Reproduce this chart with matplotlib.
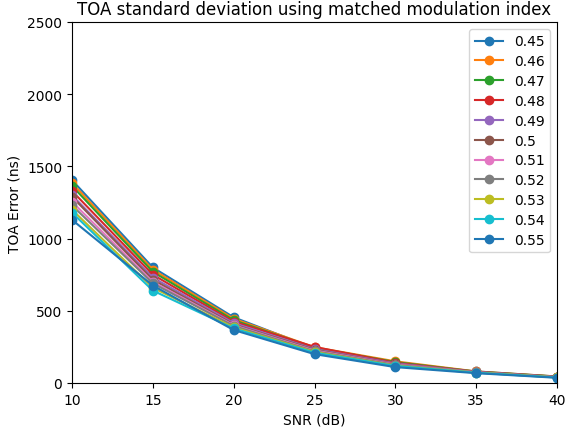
import matplotlib
matplotlib.use("Agg")
import matplotlib.pyplot as plt

snr = [10, 15, 20, 25, 30, 35, 40]
mod_index = ["0.45", "0.46", "0.47", "0.48", "0.49", "0.5",
             "0.51", "0.52", "0.53", "0.54", "0.55"]

toa_045 = [1405, 800, 455, 240, 140, 80, 45]
toa_046 = [1385, 785, 445, 248, 150, 80, 45]
toa_047 = [1365, 770, 435, 245, 145, 78, 44]
toa_048 = [1330, 750, 425, 250, 140, 77, 43]
toa_049 = [1300, 730, 415, 235, 135, 76, 42]
toa_050 = [1290, 715, 405, 230, 130, 75, 41]
toa_051 = [1255, 700, 400, 225, 128, 74, 40]
toa_052 = [1230, 690, 395, 220, 125, 73, 40]
toa_053 = [1200, 660, 385, 215, 120, 72, 39]
toa_054 = [1180, 640, 378, 210, 118, 71, 38]
toa_055 = [1130, 675, 367, 200, 110, 68, 36]

series = [toa_045, toa_046, toa_047, toa_048, toa_049, toa_050,
          toa_051, toa_052, toa_053, toa_054, toa_055]

fig = plt.figure(figsize=(5.66, 4.31), dpi=100)
ax = fig.add_axes([72 / 566, 1 - 384 / 431, 485 / 566, 361 / 431])

for label, vals in zip(mod_index, series):
    ax.plot(snr, vals, marker="o", label=label)

ax.set_xlim(10, 40)
ax.set_ylim(0, 2500)
ax.set_xlabel("SNR (dB)")
ax.set_ylabel("TOA Error (ns)")
ax.set_title("TOA standard deviation using matched modulation index")
ax.legend(loc="upper right", labelspacing=0.42)

fig.savefig("out.png", dpi=100)
